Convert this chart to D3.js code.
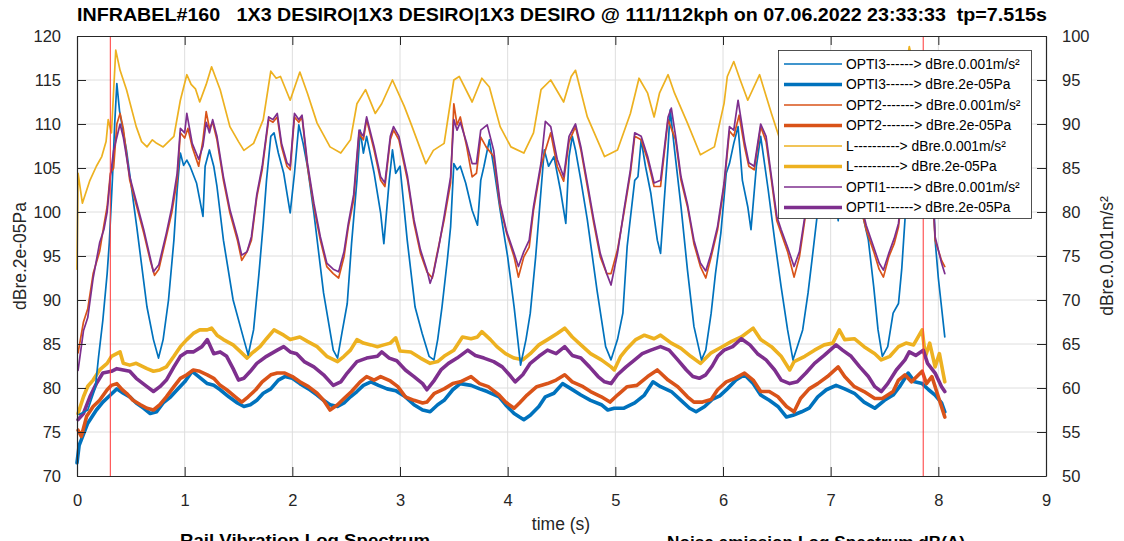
<!DOCTYPE html>
<html><head><meta charset="utf-8">
<script src="https://cdn.jsdelivr.net/npm/d3@7"></script>
<style>
html,body{margin:0;padding:0;background:#fff;}
svg{display:block;font-family:"Liberation Sans",Arial,Helvetica,sans-serif;}
</style></head>
<body>
<svg id="chart" width="1124" height="541"></svg>
<script>
// ---------- DATA ----------
const titleText = "INFRABEL#160   1X3 DESIRO|1X3 DESIRO|1X3 DESIRO @ 111/112kph on 07.06.2022 23:33:33  tp=7.515s";
const xTicks = [0,1,2,3,4,5,6,7,8,9];
const leftTicks = [70,75,80,85,90,95,100,105,110,115,120];
const rightTicks = [50,55,60,65,70,75,80,85,90,95,100];
const markerTimes = [0.31, 7.86];
const legendLabels = [
  "OPTI3------> dBre.0.001m/s\u00b2",
  "OPTI3------> dBre.2e-05Pa",
  "OPT2-------> dBre.0.001m/s\u00b2",
  "OPT2-------> dBre.2e-05Pa",
  "L----------> dBre.0.001m/s\u00b2",
  "L----------> dBre.2e-05Pa",
  "OPTI1------> dBre.0.001m/s\u00b2",
  "OPTI1------> dBre.2e-05Pa"
];
const seriesColors = ["#0072BD","#0072BD","#D95319","#D95319","#EDB120","#EDB120","#7E2F8E","#7E2F8E"];

// thin lines: right axis (dBre.0.001m/s²), [time s, level]
const opti3Acc = [[0.02,57],[0.1,57.5],[0.17,60],[0.2,63.5],[0.24,67.7],[0.28,73],[0.3,76.5],[0.33,84],[0.35,90],[0.37,94.6],[0.395,91.5],[0.415,90.1],[0.46,87],[0.555,78.3],[0.65,69.2],[0.71,65.5],[0.757,63.4],[0.8,65.5],[0.85,70],[0.9,76.8],[0.93,82.5],[0.96,86.7],[0.99,85.3],[1.02,85.9],[1.05,85.2],[1.11,83.3],[1.17,79.5],[1.19,85.2],[1.23,87.05],[1.27,85.2],[1.3,82.9],[1.36,76.8],[1.45,70],[1.55,65.5],[1.59,63.75],[1.64,66.6],[1.69,73],[1.73,78.7],[1.76,83.6],[1.8,88.6],[1.83,89],[1.87,86.7],[1.92,84.4],[1.98,79.9],[2.02,84.4],[2.06,89.9],[2.1,87.8],[2.14,85.2],[2.2,79.9],[2.29,70.8],[2.38,64.3],[2.42,63.4],[2.46,66.2],[2.51,69.6],[2.55,76.4],[2.6,83.6],[2.63,89.3],[2.66,86.7],[2.69,88.6],[2.76,84.4],[2.82,79.9],[2.85,76.4],[2.9,83.6],[2.93,87.05],[2.96,84.4],[3.0,85.2],[3.067,76.8],[3.14,69.2],[3.206,66.2],[3.27,63.6],[3.315,63.2],[3.35,65.5],[3.39,69.2],[3.44,74.6],[3.47,78.3],[3.5,85.5],[3.53,84.8],[3.56,85.2],[3.61,83.3],[3.67,80.2],[3.72,78.5],[3.75,83.6],[3.78,85.2],[3.83,88.2],[3.87,85.2],[3.93,80.2],[4.0,74.9],[4.06,69.2],[4.12,62.6],[4.17,65.5],[4.21,68.5],[4.26,74.9],[4.31,82.5],[4.34,87.05],[4.38,85.2],[4.43,86.3],[4.49,82.5],[4.54,78.7],[4.57,86.3],[4.6,88.6],[4.63,87.05],[4.68,83.6],[4.74,79.1],[4.83,71.1],[4.91,64.7],[4.96,63.2],[5.02,65.5],[5.07,68.5],[5.11,76.1],[5.18,83.6],[5.21,84.0],[5.24,88.2],[5.28,85.2],[5.33,82.1],[5.39,76.8],[5.42,75.3],[5.45,80.6],[5.49,87.4],[5.51,91.6],[5.55,87.05],[5.61,80.6],[5.67,73.4],[5.73,67],[5.8,63.2],[5.84,64.3],[5.89,68.5],[5.93,73],[5.98,77.6],[6.03,84.4],[6.06,85.5],[6.1,87.8],[6.14,89.7],[6.18,83.6],[6.23,80.6],[6.26,78],[6.31,85.2],[6.35,88.6],[6.42,82.5],[6.48,76.8],[6.54,71.5],[6.6,66.6],[6.65,63.2],[6.69,64.7],[6.74,66.6],[6.79,70.8],[6.83,74.9],[6.87,79.1],[6.92,85],[6.96,88],[7.0,86],[7.04,84],[7.07,79],[7.1,85],[7.13,89],[7.18,86],[7.25,82],[7.3,79.5],[7.35,76.8],[7.4,71.5],[7.44,66.6],[7.48,63.6],[7.53,64.7],[7.58,68.5],[7.63,69.6],[7.66,73.5],[7.69,79.1],[7.73,86],[7.77,90],[7.81,86],[7.86,84],[7.9,80],[7.93,85],[7.95,84],[7.97,76.8],[8.0,72.5],[8.06,65.8]];
const opt2Acc = [[0.01,64],[0.06,67.5],[0.1,69],[0.15,73],[0.21,75.5],[0.25,78.5],[0.28,80.6],[0.31,84.4],[0.34,85],[0.37,90],[0.4,91.2],[0.43,89.5],[0.49,83.6],[0.555,80.6],[0.62,77.6],[0.68,74.5],[0.72,72.8],[0.76,73.5],[0.83,77.2],[0.88,79.9],[0.93,83.6],[0.96,89],[1.0,88.4],[1.03,89.5],[1.07,87.4],[1.13,85.2],[1.17,88.2],[1.2,91.4],[1.23,89.5],[1.26,90.2],[1.3,88.2],[1.36,83.6],[1.42,79.9],[1.49,76.8],[1.53,74.5],[1.58,75.5],[1.62,76.8],[1.67,81.7],[1.72,84.8],[1.78,90.5],[1.82,90.2],[1.86,90.8],[1.9,87.4],[1.95,85.2],[1.98,84.8],[2.02,90.8],[2.06,90.2],[2.09,90.8],[2.14,85.2],[2.2,80.6],[2.26,76.8],[2.32,73.8],[2.38,73],[2.43,72.5],[2.48,74.9],[2.52,78.3],[2.57,81.4],[2.62,88.95],[2.66,88.2],[2.69,90.5],[2.76,87],[2.82,83.6],[2.86,82.9],[2.91,88.2],[2.94,89.3],[2.99,88.2],[3.07,83.6],[3.13,78.7],[3.19,75.3],[3.25,73.2],[3.3,72.5],[3.34,75],[3.41,79.1],[3.47,83.3],[3.5,92.3],[3.53,89.9],[3.56,90.8],[3.62,87.4],[3.67,84],[3.71,84.4],[3.75,88.5],[3.8,87.4],[3.87,86.3],[3.93,80.6],[3.99,77.6],[4.06,74.9],[4.1,72.6],[4.15,74.9],[4.2,76],[4.24,80.2],[4.31,85.2],[4.35,87.0],[4.4,89],[4.46,85.2],[4.52,83.5],[4.57,88],[4.63,89.7],[4.68,87.05],[4.74,82.9],[4.8,78.7],[4.86,74.9],[4.92,73],[4.96,73.0],[5.02,75.7],[5.08,79.9],[5.14,84.4],[5.18,88.6],[5.24,88.2],[5.3,85.9],[5.36,82.9],[5.42,82.9],[5.49,90.5],[5.52,89.5],[5.56,88.2],[5.61,83.6],[5.67,80.6],[5.73,76.4],[5.79,73.8],[5.84,72.5],[5.89,74.9],[5.95,78],[6.01,82.9],[6.06,89.2],[6.1,88.6],[6.15,91.0],[6.2,87.4],[6.24,85.2],[6.29,84.8],[6.35,89.7],[6.4,88],[6.45,83.6],[6.5,79],[6.54,77.6],[6.6,75.5],[6.66,72.6],[6.71,74.9],[6.76,79.1],[6.82,85],[6.88,88],[6.95,89],[7.0,86],[7.05,85],[7.1,89],[7.15,90],[7.2,86],[7.27,81],[7.33,78],[7.4,75.5],[7.45,73.5],[7.49,72.6],[7.54,74.9],[7.59,76.4],[7.63,78.3],[7.68,84],[7.73,89],[7.77,92],[7.82,87],[7.86,85],[7.9,88],[7.94,84],[7.97,76.8],[8.03,74.5],[8.06,73.8]];
const lAcc = [[0,73.5],[0.01,84.4],[0.05,81],[0.12,83.6],[0.18,85.2],[0.23,86.3],[0.27,88],[0.29,90.5],[0.32,89],[0.36,98.4],[0.4,96.1],[0.46,93.9],[0.55,89.7],[0.6,88],[0.65,87.4],[0.7,88.2],[0.74,87.8],[0.8,87.4],[0.9,88.6],[0.96,92.7],[1.02,95.6],[1.06,94.5],[1.1,94],[1.14,92.5],[1.2,94.5],[1.25,96.5],[1.33,93.9],[1.42,89.7],[1.5,88],[1.55,87],[1.64,87.8],[1.73,90.5],[1.8,96],[1.85,95.2],[1.89,95.4],[1.98,92.7],[2.07,95.9],[2.14,93.5],[2.23,90.1],[2.35,87.4],[2.45,86.7],[2.54,88.2],[2.6,92.3],[2.68,93.9],[2.77,91.2],[2.83,92.3],[2.93,95],[3.04,92],[3.1,90.1],[3.24,85.5],[3.31,87],[3.41,87.8],[3.5,95],[3.55,95.4],[3.67,92.5],[3.76,95.2],[3.83,94.2],[3.93,89.7],[4.03,87.4],[4.15,86.7],[4.24,89],[4.31,93.9],[4.4,95],[4.52,92.5],[4.59,95.4],[4.63,96.1],[4.74,90.8],[4.9,86.3],[5.02,87.05],[5.14,91.2],[5.22,95.2],[5.3,93.5],[5.36,90.8],[5.41,93.5],[5.49,95.6],[5.55,93.5],[5.67,90.1],[5.79,86.5],[5.92,87.4],[6.01,92.35],[6.04,95.4],[6.1,97.1],[6.16,95],[6.23,92.7],[6.34,95.6],[6.45,91.2],[6.54,87.8],[6.62,87],[6.72,86.5],[6.8,88],[6.88,92],[6.95,95],[7.05,94],[7.1,95.5],[7.2,92],[7.35,87],[7.5,86.5],[7.6,89],[7.68,95],[7.73,98.8],[7.8,95],[7.87,96],[7.95,92],[8.06,88]];
const opti1Acc = [[0.01,62],[0.06,66.5],[0.1,68],[0.15,72.5],[0.21,76.5],[0.25,78],[0.28,80],[0.31,84],[0.34,87],[0.37,88.5],[0.4,90],[0.43,88.5],[0.49,84],[0.555,81],[0.62,78],[0.68,74.8],[0.71,73.2],[0.76,74],[0.83,77.6],[0.88,80.5],[0.93,84.4],[0.96,89.5],[1.0,89],[1.02,91.2],[1.07,87.8],[1.13,86],[1.17,87.5],[1.2,90.2],[1.23,89],[1.26,90.5],[1.3,88.6],[1.36,84],[1.42,80.3],[1.49,77.2],[1.53,75.1],[1.58,75.5],[1.62,77.2],[1.67,82],[1.72,85.2],[1.78,90.8],[1.82,90.5],[1.86,91.2],[1.9,87.8],[1.95,85.6],[1.98,85.2],[2.02,91.2],[2.06,90.5],[2.09,91],[2.14,85.6],[2.2,81],[2.26,77.2],[2.32,74.2],[2.38,73.5],[2.43,73.2],[2.48,75.5],[2.52,78.7],[2.57,82],[2.62,89.3],[2.66,88.6],[2.69,90.8],[2.76,87.4],[2.82,84],[2.86,83.3],[2.91,88.6],[2.94,89.7],[2.99,88.6],[3.07,84],[3.13,79.1],[3.19,75.7],[3.25,73.4],[3.28,71.9],[3.31,73],[3.36,76],[3.41,79.5],[3.47,84],[3.5,90.5],[3.53,89.3],[3.56,90.2],[3.62,87.8],[3.67,85.5],[3.71,85.5],[3.75,89.3],[3.81,89.9],[3.87,87],[3.93,81],[3.99,77.8],[4.06,75.3],[4.1,73.8],[4.15,75.5],[4.2,76.8],[4.24,80.6],[4.31,85.6],[4.35,90.3],[4.4,89.7],[4.46,86],[4.52,84],[4.57,88.6],[4.63,90],[4.68,87.4],[4.74,83.3],[4.8,79.1],[4.86,75.3],[4.92,73],[4.96,71.7],[5.02,75.3],[5.08,80.2],[5.14,84.8],[5.18,89],[5.24,88.6],[5.3,86.3],[5.36,83.3],[5.42,83.6],[5.49,90.8],[5.52,91.8],[5.56,88.6],[5.61,84],[5.67,80.9],[5.73,76.8],[5.79,74.2],[5.84,73.3],[5.89,75.3],[5.95,78.4],[6.01,83.3],[6.06,89.7],[6.1,89.3],[6.14,92.7],[6.2,88],[6.24,85.6],[6.29,85.2],[6.35,90],[6.4,88.6],[6.45,84],[6.5,79.5],[6.54,78],[6.6,76],[6.66,73.8],[6.71,75.5],[6.76,79.5],[6.82,85.5],[6.88,88.5],[6.95,89.5],[7.0,86.5],[7.05,85.5],[7.1,89.5],[7.15,90.5],[7.2,86.5],[7.27,81.5],[7.33,78.5],[7.4,76],[7.45,74.2],[7.49,73.4],[7.54,75.3],[7.59,77],[7.63,78.7],[7.68,84.5],[7.73,89.5],[7.77,92.5],[7.82,87.5],[7.86,85.5],[7.9,88.5],[7.94,84.5],[7.97,77.2],[8.03,74.2],[8.06,73]];

// thick lines: left axis (dBre.2e-05Pa), [time s, level]
const opti3Pa = [[0.0,71.5],[0.02,73.5],[0.04,74.1],[0.1,76],[0.18,77.5],[0.24,78.4],[0.31,79.2],[0.37,79.9],[0.43,79.4],[0.49,79],[0.55,78.3],[0.62,77.7],[0.68,77.1],[0.74,77.3],[0.8,78.3],[0.87,79],[0.93,79.8],[1.0,80.7],[1.07,81.9],[1.13,81.3],[1.21,80.5],[1.27,80.3],[1.33,79.8],[1.41,79],[1.49,78.3],[1.55,77.9],[1.61,78.1],[1.67,78.6],[1.73,79.4],[1.8,79.9],[1.87,80.9],[1.93,81.3],[2.0,81.1],[2.07,80.5],[2.15,79.9],[2.23,79.2],[2.29,78.6],[2.35,78.1],[2.42,77.9],[2.48,78.3],[2.54,79],[2.6,79.6],[2.66,80.3],[2.73,80.7],[2.8,80.3],[2.88,79.9],[2.96,79.7],[3.05,79],[3.13,78.1],[3.21,77.5],[3.28,77.3],[3.35,78.1],[3.41,78.6],[3.49,79.8],[3.56,80.5],[3.66,80.3],[3.74,79.9],[3.81,79.6],[3.92,79],[3.98,78.1],[4.06,77.1],[4.11,76.7],[4.15,76.4],[4.21,76.9],[4.29,77.9],[4.35,79],[4.43,79.4],[4.51,80.5],[4.59,79.9],[4.68,79.2],[4.77,78.6],[4.87,78.1],[4.93,77.5],[4.99,77.7],[5.08,77.7],[5.18,78.3],[5.27,79.2],[5.35,80.7],[5.42,80.15],[5.52,79.6],[5.61,78.6],[5.69,77.7],[5.75,77.3],[5.83,77.9],[5.9,78.7],[5.97,79.1],[6.04,79.9],[6.12,80.9],[6.2,81.5],[6.28,80.5],[6.35,79.2],[6.43,78.6],[6.51,77.9],[6.59,76.7],[6.65,76.9],[6.73,77.3],[6.8,77.7],[6.88,79],[6.96,79.8],[7.05,80.3],[7.13,79.9],[7.22,79.4],[7.31,78.4],[7.41,77.7],[7.5,78.6],[7.58,79.2],[7.64,80.15],[7.72,81.7],[7.78,80.7],[7.85,80.5],[7.91,79.8],[7.97,79.2],[8.03,78.3],[8.06,77.3]];
const opt2Pa = [[0.01,75.2],[0.04,74.5],[0.09,76.8],[0.15,77.9],[0.21,78.6],[0.28,79.8],[0.32,80.3],[0.37,80.5],[0.42,79.8],[0.46,79.4],[0.52,78.6],[0.59,78.1],[0.65,77.7],[0.71,77.5],[0.77,78.1],[0.83,79],[0.9,80.15],[0.96,81.1],[1.02,81.5],[1.08,82.05],[1.14,81.9],[1.21,81.5],[1.27,81.1],[1.33,80.3],[1.39,79.8],[1.47,79],[1.53,78.4],[1.59,79],[1.66,79.8],[1.72,80.7],[1.8,81.5],[1.86,81.7],[1.93,81.7],[2.0,81.3],[2.07,80.7],[2.15,80.15],[2.23,79.4],[2.29,78.6],[2.35,77.5],[2.42,78.1],[2.48,78.8],[2.55,79.6],[2.63,80.7],[2.69,81.3],[2.76,80.9],[2.82,81.3],[2.91,80.8],[2.98,80.15],[3.05,79],[3.13,78.6],[3.21,78.3],[3.25,78.4],[3.32,79.4],[3.41,79.9],[3.49,80.5],[3.56,80.7],[3.66,81.3],[3.74,80.5],[3.82,80.15],[3.92,79.2],[3.98,78.4],[4.06,77.7],[4.11,78.3],[4.18,79.2],[4.27,80.15],[4.37,80.5],[4.45,80.9],[4.53,81.5],[4.6,80.7],[4.7,80.15],[4.77,79.6],[4.87,79],[4.95,78.4],[5.02,79.2],[5.11,80.15],[5.2,80.3],[5.3,81.3],[5.39,82.05],[5.49,80.9],[5.58,80.15],[5.67,79],[5.73,78.4],[5.81,78.4],[5.89,78.7],[5.95,79.8],[6.03,80.7],[6.11,81.1],[6.2,81.7],[6.28,80.9],[6.35,79.6],[6.43,79.6],[6.51,79],[6.59,77.9],[6.66,77.3],[6.72,78.8],[6.8,79.9],[6.88,80.5],[6.97,81.3],[7.07,82.4],[7.13,81.3],[7.22,80.15],[7.31,79.6],[7.41,78.8],[7.48,78.8],[7.58,79.6],[7.63,80.9],[7.69,81.5],[7.75,80.7],[7.85,81.9],[7.89,80.5],[7.94,81.3],[8.0,79],[8.06,76.7]];
const lPa = [[0.01,77.1],[0.06,79],[0.1,80.2],[0.15,80.9],[0.21,82.05],[0.28,82.8],[0.32,83.6],[0.4,84.1],[0.43,82.8],[0.49,82.6],[0.55,82.8],[0.65,82.2],[0.71,81.9],[0.77,82.05],[0.83,82.4],[0.9,83.6],[0.96,84.7],[1.02,85.5],[1.08,86.2],[1.14,86.6],[1.21,86.6],[1.25,86.8],[1.3,86],[1.36,85.5],[1.45,84.9],[1.52,84.1],[1.58,83.4],[1.62,83.9],[1.7,84.7],[1.76,85.6],[1.83,86.6],[1.92,86],[1.98,85.5],[2.07,85.8],[2.14,85.3],[2.23,84.7],[2.32,83.6],[2.42,83],[2.48,83.6],[2.54,84.3],[2.6,85.5],[2.66,85.1],[2.73,84.9],[2.79,84.7],[2.85,84.9],[2.91,85.1],[2.96,85.7],[3.0,84.2],[3.1,84.1],[3.19,83.4],[3.28,82.8],[3.35,83],[3.42,83.7],[3.5,84.3],[3.58,85.8],[3.66,85.6],[3.72,85.8],[3.76,86.4],[3.84,85.5],[3.9,84.7],[3.98,83.9],[4.06,83.4],[4.14,83.2],[4.21,83.9],[4.29,84.9],[4.37,85.5],[4.46,86.2],[4.53,86.8],[4.6,85.8],[4.68,84.9],[4.77,83.9],[4.87,83.2],[4.96,82.4],[4.99,82.05],[5.05,83.6],[5.11,84.5],[5.19,85.5],[5.27,86],[5.36,85.6],[5.42,86],[5.52,85.1],[5.61,84.5],[5.7,83.6],[5.79,82.8],[5.89,84],[5.98,84.6],[6.08,85.3],[6.17,85.8],[6.28,86.8],[6.35,85.5],[6.45,84.7],[6.54,83.6],[6.62,82.05],[6.66,83],[6.76,83.6],[6.85,84.3],[6.94,84.9],[7.02,85.1],[7.08,86.6],[7.13,85.5],[7.22,85.6],[7.31,84.7],[7.41,83.9],[7.47,83.2],[7.55,83.6],[7.63,84.7],[7.7,85.1],[7.77,84.9],[7.85,86.6],[7.88,83.6],[7.92,85.1],[7.97,82.4],[8.01,83.9],[8.06,80.7]];
const opti1Pa = [[0.01,76.4],[0.06,77.1],[0.12,79],[0.18,80.5],[0.24,81.7],[0.32,81.9],[0.37,82.2],[0.43,82.05],[0.49,81.9],[0.55,81.1],[0.65,80.15],[0.71,79.6],[0.77,80.15],[0.83,80.9],[0.9,82.4],[0.96,83.6],[1.02,84.1],[1.08,84.1],[1.16,84.7],[1.21,85.5],[1.27,83.9],[1.33,84.1],[1.39,83.6],[1.45,82.2],[1.5,80.9],[1.55,81.1],[1.61,81.9],[1.67,82.8],[1.76,83.6],[1.86,84.3],[1.92,84.7],[1.98,84.1],[2.04,83.9],[2.11,83],[2.2,82.4],[2.29,81.5],[2.38,80.3],[2.45,80.7],[2.51,81.7],[2.6,83],[2.69,83.4],[2.79,83.6],[2.83,84.1],[2.9,83.4],[2.97,83.1],[3.05,82.05],[3.13,81.3],[3.21,80.5],[3.25,79.8],[3.32,80.9],[3.38,82.05],[3.45,82.8],[3.53,83.4],[3.63,84.3],[3.7,83.7],[3.78,83.4],[3.87,83],[3.95,82.4],[4.03,81.3],[4.07,80.7],[4.14,81.5],[4.21,82.8],[4.29,83.6],[4.37,84.3],[4.45,83.9],[4.53,84.7],[4.6,83.7],[4.68,83.4],[4.76,82.4],[4.84,81.3],[4.9,80.7],[4.96,80.5],[5.02,81.5],[5.1,82.4],[5.18,83.2],[5.25,83.9],[5.33,84.3],[5.42,84.7],[5.5,84.3],[5.58,83.2],[5.66,82.05],[5.72,81.3],[5.78,81.1],[5.84,81.5],[5.9,82.5],[5.95,83.6],[6.01,84.3],[6.09,84.7],[6.17,85.6],[6.25,84.9],[6.32,83.9],[6.4,83.2],[6.48,82.05],[6.54,80.9],[6.62,80.5],[6.69,80.7],[6.77,81.7],[6.85,82.8],[6.94,83.7],[7.05,84.9],[7.11,84.3],[7.19,83.6],[7.27,82.4],[7.35,81.3],[7.41,80.15],[7.47,79.6],[7.53,80.5],[7.61,82.05],[7.69,83.2],[7.73,84.1],[7.79,83.7],[7.86,84.3],[7.9,82.8],[7.97,81.7],[8.03,80.15],[8.06,79.6]];

// legend order (same as series order)
const seriesData = [opti3Acc, opti3Pa, opt2Acc, opt2Pa, lAcc, lPa, opti1Acc, opti1Pa];
const seriesAxis = ["right","left","right","left","right","left","right","left"];

// ---------- LAYOUT ----------
const X0 = 77, X1 = 1046, Y0 = 36, Y1 = 476;
const svg = d3.select("#chart");
const x = d3.scaleLinear().domain([0,9]).range([X0,X1]);
const yL = d3.scaleLinear().domain([70,120]).range([Y1,Y0]);
const yR = d3.scaleLinear().domain([50,100]).range([Y1,Y0]);
const axisCol = "#262626";
const tickFont = 16.5;

// grid
const grid = svg.append("g");
grid.selectAll(".gx").data(xTicks.slice(1,-1)).enter().append("line")
  .attr("x1",d=>x(d)).attr("x2",d=>x(d)).attr("y1",Y0).attr("y2",Y1)
  .attr("stroke","#dedede").attr("stroke-width",1);
grid.selectAll(".gy").data(leftTicks.slice(1,-1)).enter().append("line")
  .attr("x1",X0).attr("x2",X1).attr("y1",d=>yL(d)).attr("y2",d=>yL(d))
  .attr("stroke","#dedede").attr("stroke-width",1);

// lines (thick first, thin on top)
const order = [1,3,5,7,0,2,4,6];
const plot = svg.append("g");
order.forEach(i=>{
  const ys = seriesAxis[i]==="left" ? yL : yR;
  const line = d3.line().x(d=>x(d[0])).y(d=>ys(d[1]));
  plot.append("path").datum(seriesData[i]).attr("d",line)
    .attr("fill","none").attr("stroke",seriesColors[i])
    .attr("stroke-width", seriesAxis[i]==="left" ? 3.6 : 1.7)
    .attr("stroke-linejoin","round").attr("stroke-linecap","round");
});

// marker lines
svg.selectAll(".mk").data(markerTimes).enter().append("line")
  .attr("x1",d=>x(d)).attr("x2",d=>x(d)).attr("y1",Y0).attr("y2",Y1)
  .attr("stroke","#ff3b3b").attr("stroke-opacity",0.85).attr("stroke-width",1.2);

// axes
const tl = 9;
const gB = svg.append("g").attr("transform",`translate(0,${Y1})`)
  .call(d3.axisBottom(x).tickValues(xTicks).tickSize(-tl).tickSizeOuter(0).tickPadding(tl+9).tickFormat(d3.format("d")));
const gT = svg.append("g").attr("transform",`translate(0,${Y0})`)
  .call(d3.axisTop(x).tickValues(xTicks).tickSize(-tl).tickSizeOuter(0).tickFormat(""));
const gL = svg.append("g").attr("transform",`translate(${X0},0)`)
  .call(d3.axisLeft(yL).tickValues(leftTicks).tickSize(-tl).tickSizeOuter(0).tickPadding(tl+7).tickFormat(d3.format("d")));
const gR = svg.append("g").attr("transform",`translate(${X1},0)`)
  .call(d3.axisRight(yR).tickValues(rightTicks).tickSize(-tl).tickSizeOuter(0).tickPadding(tl+7).tickFormat(d3.format("d")));
[gB,gT,gL,gR].forEach(g=>{
  g.select(".domain").attr("stroke",axisCol).attr("stroke-width",1.2);
  g.selectAll(".tick line").attr("stroke",axisCol).attr("stroke-width",1);
  g.selectAll("text").attr("font-size",tickFont).attr("fill","#262626")
    .attr("font-family","'Liberation Sans',Arial,sans-serif");
});
gB.selectAll("text").attr("dy","0.71em");

// labels
svg.append("text").attr("x",562).attr("y",21).attr("text-anchor","middle")
  .attr("font-size",17.5).attr("font-weight","bold").attr("fill","#000")
  .attr("textLength",970).attr("lengthAdjust","spacingAndGlyphs")
  .style("white-space","pre").text(titleText);
svg.append("text").attr("transform","translate(26,256) rotate(-90)").attr("text-anchor","middle")
  .attr("font-size",17.5).attr("fill","#262626").text("dBre.2e-05Pa");
svg.append("text").attr("transform","translate(1113,256) rotate(-90)").attr("text-anchor","middle")
  .attr("font-size",17.5).attr("fill","#262626").text("dBre.0.001m/s\u00b2");
svg.append("text").attr("x",561).attr("y",530).attr("text-anchor","middle")
  .attr("font-size",17.5).attr("fill","#262626").text("time (s)");
// sub-plot titles cut off at the bottom
svg.append("text").attr("x",180).attr("y",546).attr("font-size",17).attr("font-weight","bold")
  .attr("textLength",250).attr("lengthAdjust","spacingAndGlyphs").text("Rail Vibration Log Spectrum");
svg.append("text").attr("x",667).attr("y",548).attr("font-size",17).attr("font-weight","bold")
  .attr("textLength",298).attr("lengthAdjust","spacingAndGlyphs").text("Noise emission Log Spectrum dB(A)");

// legend
const lg = svg.append("g");
lg.append("rect").attr("x",778.5).attr("y",50.5).attr("width",253).attr("height",168)
  .attr("fill","#fff").attr("stroke","#262626").attr("stroke-width",0.8);
legendLabels.forEach((lab,i)=>{
  const yy = 64 + i*20.5;
  lg.append("line").attr("x1",784).attr("x2",842).attr("y1",yy).attr("y2",yy)
    .attr("stroke",seriesColors[i]).attr("stroke-width", seriesAxis[i]==="left"?3.6:1.7);
  lg.append("text").attr("x",846).attr("y",yy).attr("dy","0.35em")
    .attr("font-size",13.8).attr("fill","#000").style("white-space","pre").text(lab);
});
</script>
</body></html>
